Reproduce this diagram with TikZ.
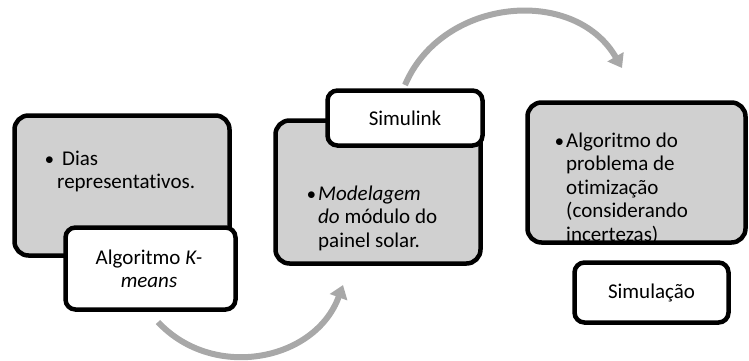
\documentclass[tikz,border=0pt]{standalone}
\usepackage{fontspec}
\setmainfont{Carlito}[RawFeature=-liga]
\usetikzlibrary{arrows.meta}
\definecolor{boxgray}{HTML}{D0D0D0}
\definecolor{arrowgray}{HTML}{A8A8A8}
\tikzset{
  graybox/.style={draw=black, line width=4.5pt, fill=boxgray, rounded corners=14pt},
  whitebox/.style={draw=black, line width=4.5pt, fill=white, rounded corners=10pt},
  txt/.style={inner sep=0pt, anchor=base west, font=\fontsize{21}{23.5}\selectfont},
  ctxt/.style={inner sep=0pt, anchor=base, font=\fontsize{21}{23.5}\selectfont},
  flow/.style={draw=arrowgray, line width=6pt, -{Triangle[width=18pt,length=13pt]}}
}
\newcommand{\bul}[1]{\makebox[#1][l]{\hspace{-1pt}\raisebox{1pt}{\fontsize{18}{18}\selectfont$\bullet$}}}
\begin{document}
\begin{tikzpicture}[x=1pt,y=-1pt]
\useasboundingbox (0,0) rectangle (749,360);
% boxes
\node[graybox, minimum width=215pt, minimum height=140pt] (b1) at (122,185.5) {};
\node[whitebox, minimum width=170pt, minimum height=82pt] (km) at (150.5,268.5) {};
\node[graybox, minimum width=205pt, minimum height=143pt] (b2) at (378,192) {};
\node[whitebox, minimum width=155pt, minimum height=55pt] (sl) at (405,118) {};
\node[graybox, minimum width=218pt, minimum height=140pt] (b3) at (636.5,172.5) {};
\node[whitebox, minimum width=154pt, minimum height=60pt] (sim) at (651.5,292.5) {};
% texts
\node[txt] (t1) at (46,165) {\begin{tabular}[t]{@{}l@{}l@{}}\bul{11pt} & \hspace{5pt}Dias\\ & representativos.\end{tabular}};
\node[ctxt] (tkm1) at (149,264) {Algoritmo \textit{K-}};
\node[ctxt] (tkm2) at (149,287) {\textit{means}};
\node[txt] (t2) at (308,200) {\begin{tabular}[t]{@{}l@{}l@{}}\bul{10pt} & \textit{Modelagem}\\ & \textit{do} módulo do\\ & painel solar.\end{tabular}};
\node[ctxt] (tsl) at (405,125) {Simulink};
\node[txt] (t3) at (556,147) {\begin{tabular}[t]{@{}l@{}l@{}}\bul{10pt} & Algoritmo do\\ & problema de\\ & otimização\\ & (considerando\\ & incertezas)\end{tabular}};
\node[ctxt] (tsim) at (651.5,298) {Simulação};
% arrows
\coordinate (a1s) at (158,322);
\coordinate (a1e) at (343,285);
\coordinate (a2s) at (405,85);
\coordinate (a2e) at (622,68);
\draw[flow] (a1s) to[out=-47, in=-110, looseness=1.1] (a1e);
\draw[flow] (a2s) to[out=67, in=120, looseness=1.12] (a2e);
\end{tikzpicture}
\end{document}
